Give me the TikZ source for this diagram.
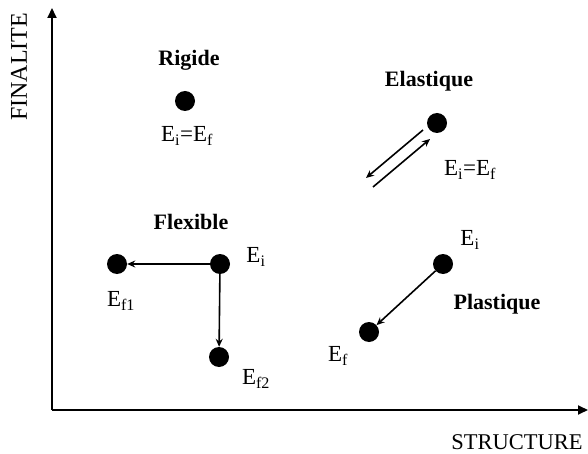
\documentclass[tikz,border=0pt]{standalone}
\usepackage{fontspec}
\setmainfont{Liberation Serif}
\usetikzlibrary{arrows.meta}
\begin{document}
\begin{tikzpicture}[x=1pt,y=-1pt,
  dot/.style={circle,fill=black,minimum size=20pt,inner sep=0pt},
  lbl/.style={font=\fontsize{23}{27}\selectfont,inner sep=0pt},
  ttl/.style={font=\bfseries\fontsize{22}{26}\selectfont,inner sep=0pt},
  axlbl/.style={font=\fontsize{22.5}{26}\selectfont,inner sep=0pt},
  arr/.style={line width=1.6pt,-{Stealth[length=8pt,width=7pt]}},
  axis/.style={line width=1.8pt,-{Triangle[length=10pt,width=9pt]}}]
\useasboundingbox (0,0) rectangle (588,454);
% axes
\coordinate (O) at (52,410);
\coordinate (Ytop) at (52,8);
\coordinate (Xend) at (588,410);
\draw[axis] (O) -- (Ytop);
\draw[axis] (O) -- (Xend);
\node[axlbl,font=\fontsize{24}{28}\selectfont,rotate=90] (fin) at (19,67) {FINALITE};
\node[axlbl] (str) at (517,442) {STRUCTURE};
% Rigide
\node[ttl] (trig) at (189,60) {Rigide};
\node[dot] (rig) at (185,101) {};
\node[lbl] (rigl) at (187,136) {E\textsubscript{i}=E\textsubscript{f}};
% Elastique
\node[ttl] (tela) at (429,81) {Elastique};
\node[dot] (ela) at (437,123) {};
\node[lbl] (elal) at (470,170) {E\textsubscript{i}=E\textsubscript{f}};
\coordinate (e1a) at (423,130);
\coordinate (e1b) at (366,178);
\coordinate (e2a) at (373,187);
\coordinate (e2b) at (430,139);
\draw[arr] (e1a) -- (e1b);
\draw[arr] (e2a) -- (e2b);
% Flexible
\node[ttl] (tflex) at (191,222) {Flexible};
\node[dot] (fi) at (220,264) {};
\node[dot] (f1) at (117,264) {};
\node[dot] (f2) at (219,357) {};
\node[lbl] (fil) at (256,257) {E\textsubscript{i}};
\node[lbl] (f1l) at (121,301) {E\textsubscript{f1}};
\node[lbl] (f2l) at (256,379) {E\textsubscript{f2}};
\draw[arr] (fi) -- (f1);
\draw[arr] (fi) -- (f2);
% Plastique
\node[ttl] (tpla) at (497,304) {Plastique};
\node[dot] (pi) at (443,264) {};
\node[dot] (pf) at (369,332) {};
\node[lbl] (pil) at (470,240) {E\textsubscript{i}};
\node[lbl] (pfl) at (338,356) {E\textsubscript{f}};
\draw[arr] (pi) -- (pf);
\end{tikzpicture}
\end{document}
